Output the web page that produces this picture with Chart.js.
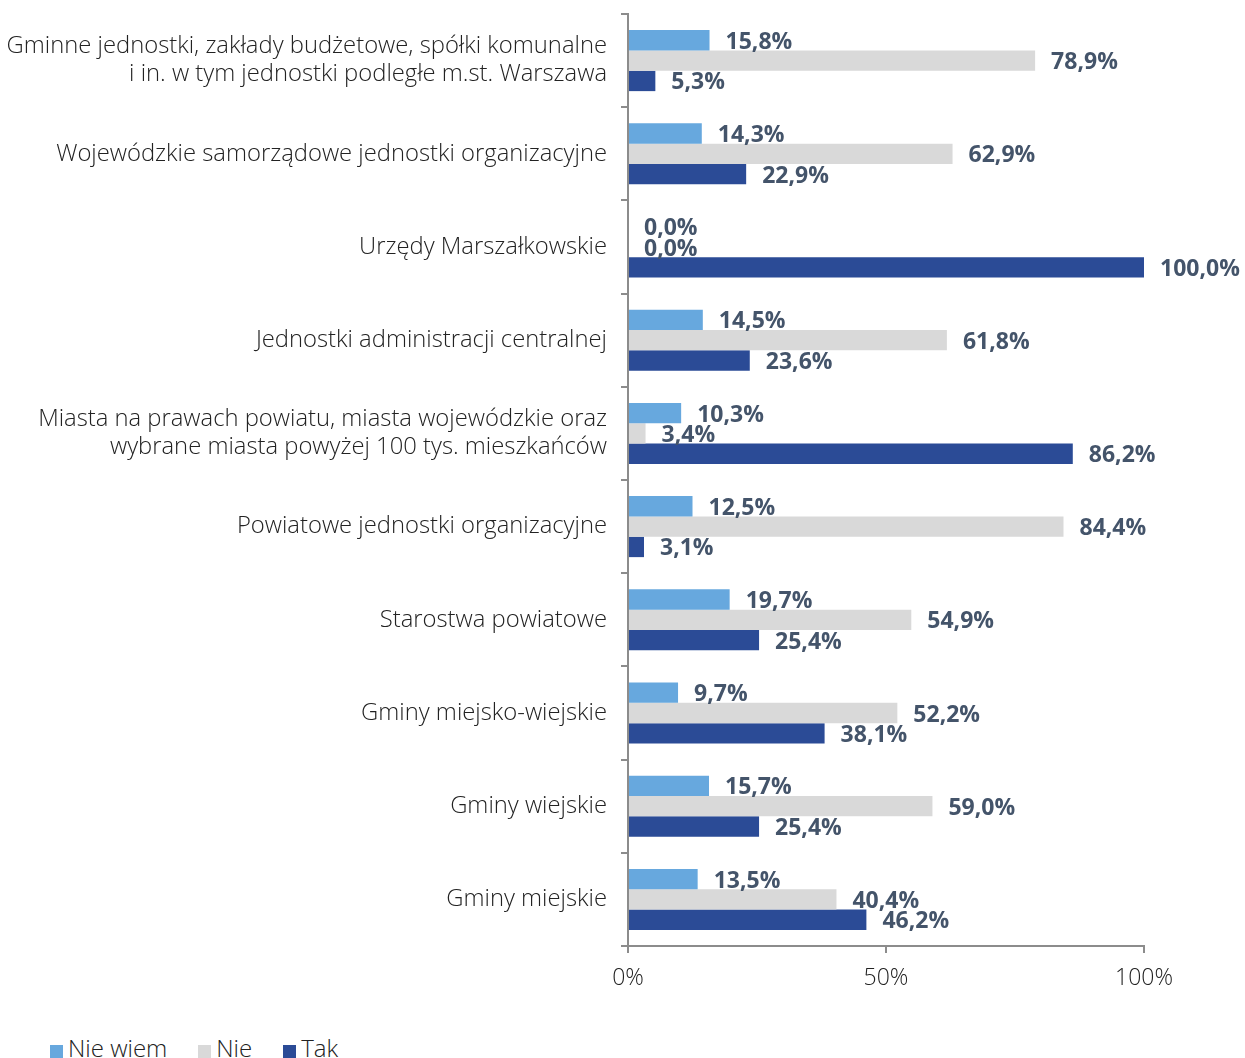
<!DOCTYPE html>
<html lang="pl">
<head>
<meta charset="utf-8">
<script src="https://cdn.jsdelivr.net/npm/chart.js@4"></script>
<style>
  html, body { margin: 0; padding: 0; background: #fff; overflow: hidden; }
  #chartBox { width: 1245px; height: 1030px; position: relative; }
  #legend {
    position: absolute; left: 50px; top: 1034px;
    font: 300 24px 'Open Sans', sans-serif; color: #222;
    white-space: nowrap; line-height: 27px;
  }
  #legend span.item { display: inline-block; margin-right: 31px; }
  #legend span.box {
    display: inline-block; width: 13px; height: 13px; margin-right: 5px;
    vertical-align: -1px;
  }
</style>
</head>
<body>
<div id="chartBox"><canvas id="chart"></canvas></div>
<div id="legend"></div>
<script>
const categories = [
  ["Gminne jednostki, zakłady budżetowe, spółki komunalne", "i in. w tym jednostki podległe m.st. Warszawa"],
  "Wojewódzkie samorządowe jednostki organizacyjne",
  "Urzędy Marszałkowskie",
  "Jednostki administracji centralnej",
  ["Miasta na prawach powiatu, miasta wojewódzkie oraz", "wybrane miasta powyżej 100 tys. mieszkańców"],
  "Powiatowe jednostki organizacyjne",
  "Starostwa powiatowe",
  "Gminy miejsko-wiejskie",
  "Gminy wiejskie",
  "Gminy miejskie"
];

const nieWiem = [15.8, 14.3, 0.0, 14.5, 10.3, 12.5, 19.7, 9.7, 15.7, 13.5];
const nie = [78.9, 62.9, 0.0, 61.8, 3.4, 84.4, 54.9, 52.2, 59.0, 40.4];
const tak = [5.3, 22.9, 100.0, 23.6, 86.2, 3.1, 25.4, 38.1, 25.4, 46.2];

const xTicks = [0, 50, 100];

const labelFont = "'Open Sans', sans-serif";
const axisGrey = "#8c8c8c";

// writes the value next to the end of every bar
const valueLabels = {
  id: "valueLabels",
  afterDatasetsDraw(chart) {
    const ctx = chart.ctx;
    ctx.save();
    ctx.font = "bold 23px " + labelFont;
    ctx.fillStyle = "#44546a";
    ctx.textAlign = "left";
    ctx.textBaseline = "middle";
    chart.data.datasets.forEach((ds, i) => {
      chart.getDatasetMeta(i).data.forEach((bar, j) => {
        const txt = ds.data[j].toFixed(1).replace(".", ",") + "%";
        ctx.fillText(txt, bar.x + 16, bar.y + 2);
      });
    });
    ctx.restore();
  }
};

// simple html legend under the canvas
const htmlLegend = {
  id: "htmlLegend",
  afterUpdate(chart) {
    const box = document.getElementById("legend");
    box.innerHTML = "";
    chart.data.datasets.forEach((ds) => {
      const item = document.createElement("span");
      item.className = "item";
      const sw = document.createElement("span");
      sw.className = "box";
      sw.style.background = ds.backgroundColor;
      item.appendChild(sw);
      item.appendChild(document.createTextNode(ds.label));
      box.appendChild(item);
    });
  }
};

new Chart(document.getElementById("chart"), {
  type: "bar",
  data: {
    labels: categories,
    datasets: [
      { label: "Nie wiem", data: nieWiem, backgroundColor: "#67a8de" },
      { label: "Nie", data: nie, backgroundColor: "#d9d9d9" },
      { label: "Tak", data: tak, backgroundColor: "#2b4b96" }
    ]
  },
  options: {
    indexAxis: "y",
    responsive: true,
    maintainAspectRatio: false,
    animation: false,
    datasets: {
      bar: { barPercentage: 1, categoryPercentage: 0.655 }
    },
    layout: { padding: { top: 14, right: 101, left: 0, bottom: 0 } },
    scales: {
      x: {
        min: 0,
        max: 100,
        afterBuildTicks(scale) {
          scale.ticks = xTicks.map((v) => ({ value: v }));
        },
        afterFit(scale) { scale.height = 84; },
        ticks: {
          callback: (v) => v + "%",
          font: { family: labelFont, size: 23, weight: "300" },
          color: "#222",
          padding: 12,
          maxRotation: 0
        },
        grid: { drawOnChartArea: false, tickLength: 7, color: axisGrey, lineWidth: 2 },
        border: { color: axisGrey, width: 2 }
      },
      y: {
        afterFit(scale) {
          scale.width = 628;
          scale.paddingTop = 0;
          scale.paddingBottom = 0;
        },
        ticks: {
          font: { family: labelFont, size: 23.8, weight: "300", lineHeight: 1.18 },
          color: "#222",
          padding: 14,
          autoSkip: false
        },
        grid: { drawOnChartArea: false, offset: true, tickLength: 7, color: axisGrey, lineWidth: 2 },
        border: { color: axisGrey, width: 2 }
      }
    },
    plugins: {
      tooltip: { enabled: false },
      legend: { display: false }
    }
  },
  plugins: [valueLabels, htmlLegend]
});
</script>
</body>
</html>
